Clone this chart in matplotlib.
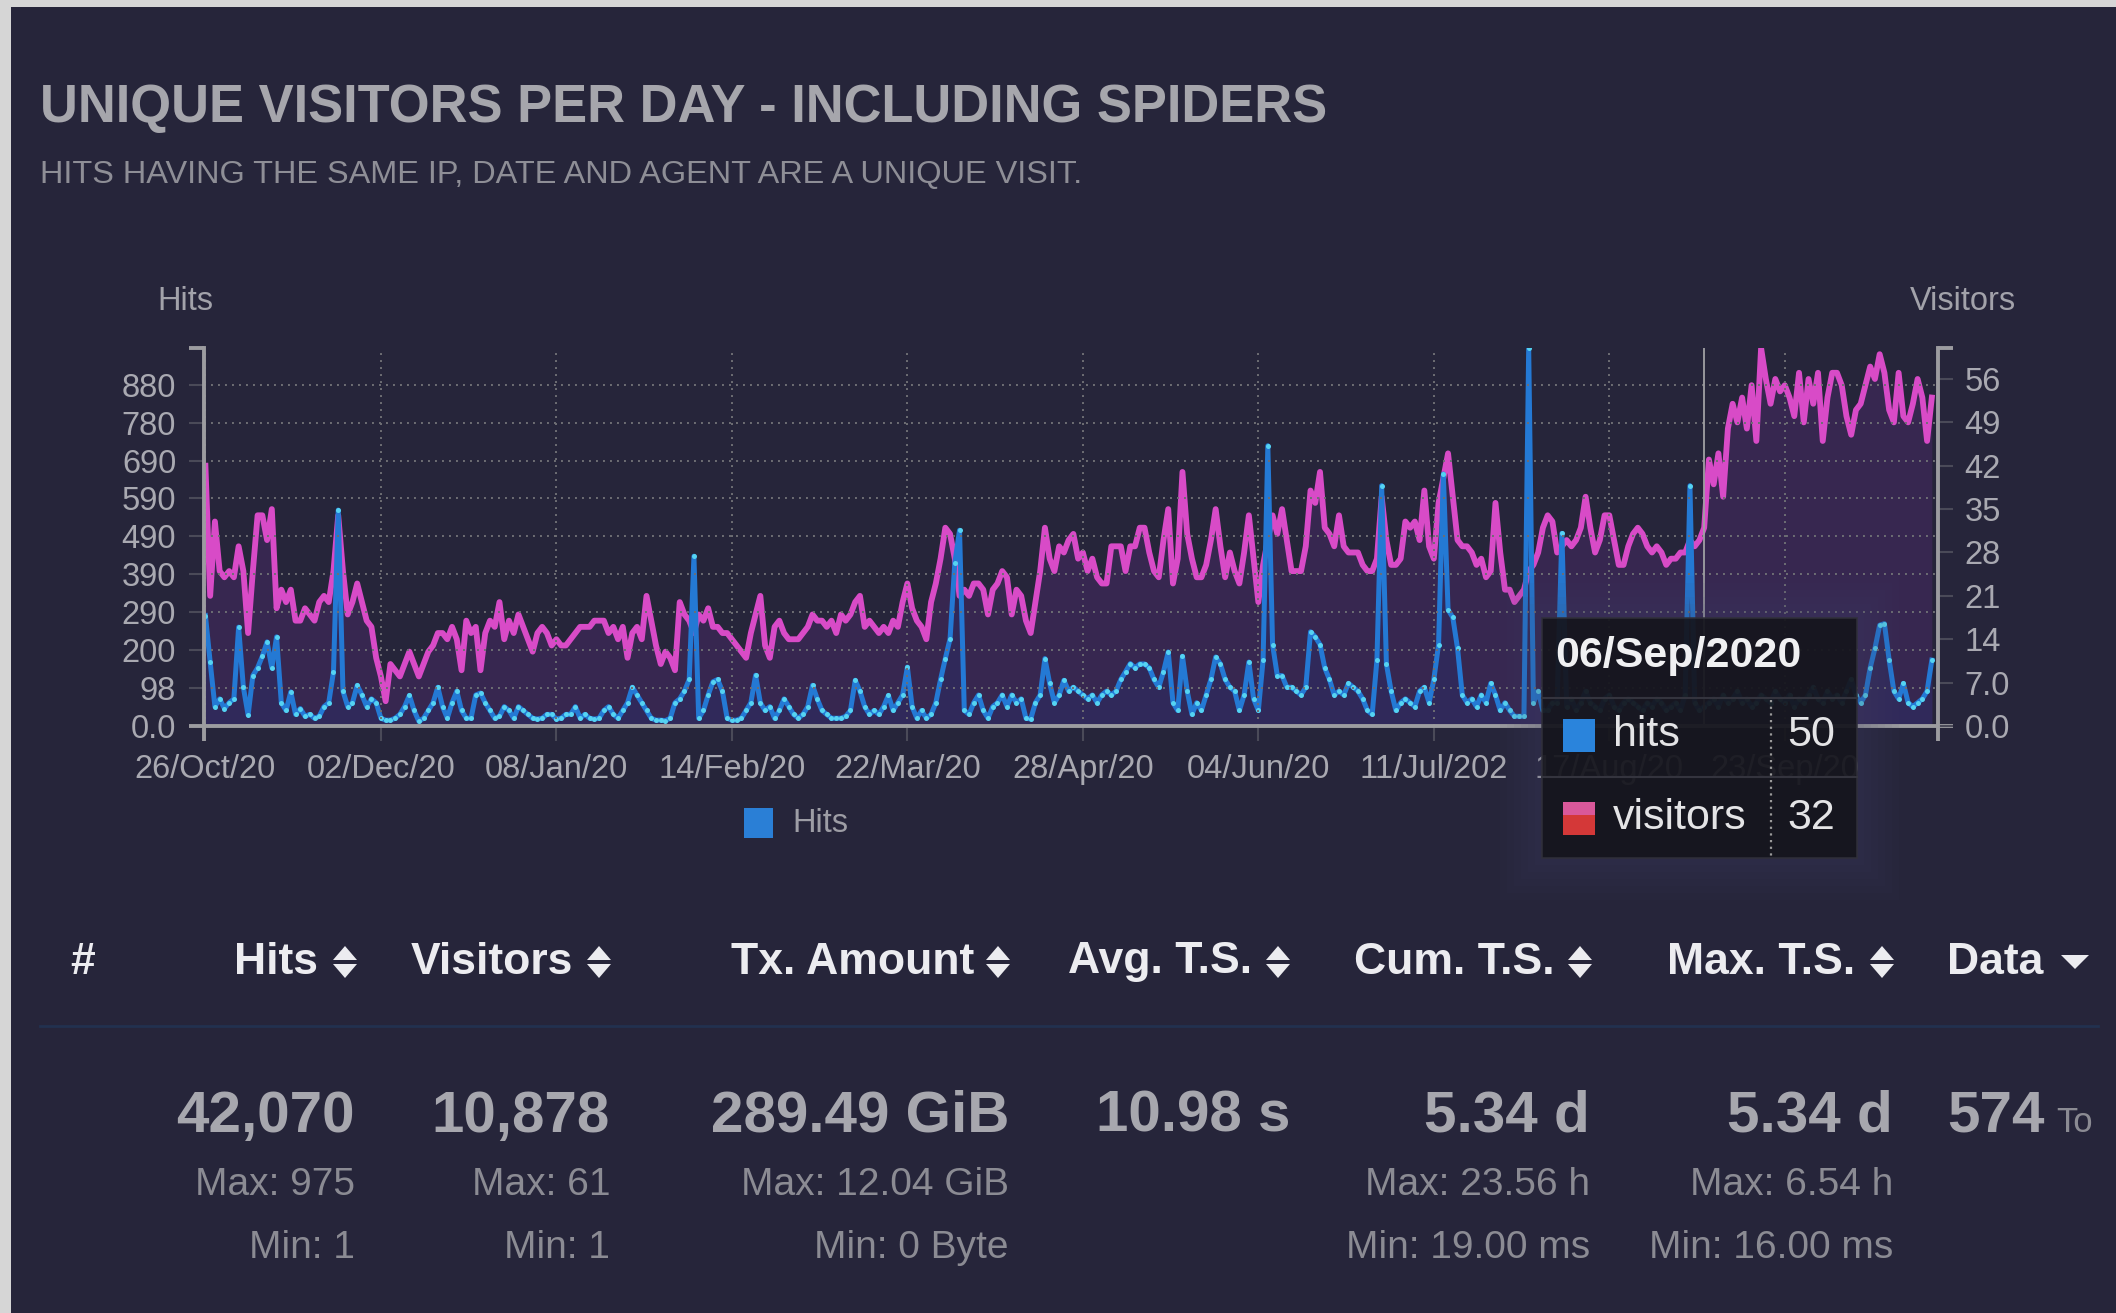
"""Unique visitors per day (GoAccess style dark panel)."""

import numpy as np
import matplotlib
matplotlib.use("Agg")
import matplotlib.pyplot as plt
import matplotlib.dates as mdates
from matplotlib.patches import Rectangle, Polygon
from matplotlib.lines import Line2D

# ---- data ---------------------------------------------------------------
start_date = "2019-10-26"
hover_date = "2020-09-06"

hits = [
    285, 165, 50, 70, 45, 60, 70, 255, 100, 28,
    130, 150, 180, 217, 150, 230, 60, 40, 88, 30,
    45, 25, 30, 20, 25, 50, 60, 140, 557, 90,
    50, 60, 105, 80, 50, 70, 60, 20, 15, 15,
    20, 30, 50, 79, 40, 12, 20, 40, 60, 100,
    50, 20, 60, 90, 40, 20, 20, 80, 85, 60,
    40, 20, 25, 50, 40, 20, 50, 40, 30, 20,
    18, 20, 30, 30, 18, 20, 30, 30, 50, 20,
    30, 20, 18, 20, 40, 50, 30, 20, 40, 60,
    100, 80, 60, 40, 20, 15, 15, 14, 20, 60,
    70, 90, 120, 438, 20, 40, 80, 114, 120, 90,
    20, 15, 15, 20, 40, 60, 131, 60, 40, 50,
    20, 40, 70, 50, 30, 20, 30, 50, 105, 70,
    40, 30, 20, 20, 20, 25, 40, 118, 90, 50,
    30, 40, 30, 50, 79, 40, 60, 80, 152, 50,
    20, 40, 20, 30, 60, 120, 174, 225, 420, 505,
    40, 30, 60, 80, 40, 20, 50, 60, 80, 50,
    80, 60, 70, 20, 18, 60, 80, 174, 110, 60,
    80, 118, 90, 100, 90, 80, 70, 80, 60, 80,
    90, 80, 90, 120, 140, 161, 150, 160, 160, 150,
    120, 100, 140, 191, 60, 40, 180, 90, 30, 60,
    40, 80, 120, 178, 160, 120, 100, 90, 40, 80,
    165, 70, 40, 170, 723, 210, 130, 130, 100, 100,
    90, 80, 100, 243, 230, 210, 150, 120, 80, 90,
    80, 110, 100, 90, 70, 40, 30, 170, 620, 160,
    90, 40, 60, 70, 60, 50, 90, 100, 60, 120,
    210, 650, 300, 280, 200, 80, 60, 70, 50, 80,
    60, 110, 80, 40, 60, 40, 25, 25, 25, 975,
    60, 90, 40, 40, 60, 60, 497, 50, 70, 40,
    60, 90, 60, 50, 40, 70, 80, 50, 40, 60,
    70, 60, 50, 40, 60, 50, 70, 60, 40, 50,
    60, 40, 80, 620, 60, 40, 50, 60, 70, 50,
    80, 60, 70, 90, 60, 70, 50, 60, 80, 70,
    60, 90, 70, 60, 80, 50, 70, 60, 80, 100,
    70, 60, 90, 70, 80, 60, 90, 120, 80, 60,
    80, 150, 200, 260, 264, 170, 90, 70, 110, 60,
    50, 60, 70, 90, 170,
]

visitors = [
    42, 21, 33, 25, 24, 25, 24, 29, 25, 15,
    25, 34, 34, 30, 35, 19, 22, 20, 22, 17,
    17, 19, 18, 17, 20, 21, 20, 25, 34, 25,
    18, 20, 23, 20, 17, 16, 11, 8, 4, 10,
    9, 8, 10, 12, 10, 8, 10, 12, 13, 15,
    15, 14, 16, 14, 9, 17, 15, 16, 9, 15,
    17, 16, 20, 14, 17, 15, 18, 16, 14, 12,
    15, 16, 15, 13, 14, 13, 13, 14, 15, 16,
    16, 16, 17, 17, 17, 15, 16, 14, 16, 11,
    15, 16, 14, 21, 17, 13, 10, 12, 11, 9,
    20, 18, 17, 15, 18, 17, 19, 16, 16, 15,
    15, 14, 13, 12, 11, 15, 18, 21, 13, 11,
    16, 17, 15, 14, 14, 14, 15, 16, 18, 17,
    17, 16, 17, 15, 18, 17, 18, 20, 21, 16,
    17, 16, 15, 16, 15, 17, 16, 20, 23, 19,
    17, 16, 14, 20, 23, 27, 32, 31, 27, 21,
    22, 21, 23, 23, 22, 18, 22, 23, 25, 24,
    18, 22, 21, 17, 15, 20, 25, 32, 27, 25,
    29, 28, 30, 31, 27, 28, 25, 27, 24, 23,
    23, 29, 29, 29, 25, 29, 29, 32, 32, 28,
    25, 24, 30, 35, 23, 27, 41, 31, 27, 24,
    24, 26, 30, 35, 29, 24, 28, 25, 23, 28,
    34, 27, 20, 26, 30, 34, 31, 35, 30, 25,
    25, 25, 29, 38, 36, 41, 32, 31, 29, 34,
    29, 28, 28, 28, 26, 25, 25, 27, 37, 30,
    26, 26, 27, 33, 32, 33, 30, 38, 29, 27,
    36, 40, 44, 37, 30, 29, 29, 28, 26, 27,
    24, 25, 36, 28, 22, 22, 20, 21, 22, 25,
    26, 28, 32, 34, 33, 28, 29, 30, 29, 30,
    32, 37, 32, 28, 30, 34, 34, 30, 26, 26,
    29, 31, 32, 31, 29, 28, 29, 28, 26, 27,
    27, 28, 28, 30, 29, 30, 32, 43, 39, 44,
    37, 48, 52, 49, 53, 48, 55, 46, 61, 56,
    52, 56, 54, 55, 53, 50, 57, 49, 56, 52,
    57, 46, 53, 57, 57, 55, 50, 47, 51, 52,
    55, 58, 56, 60, 57, 51, 49, 57, 50, 49,
    52, 56, 53, 46, 53,
]

xtick_dates = ["2019-10-26", "2019-12-02", "2020-01-08", "2020-02-14", "2020-03-22",
               "2020-04-28", "2020-06-04", "2020-07-11", "2020-08-17", "2020-09-23"]
xtick_labels = ["26/Oct/20", "02/Dec/20", "08/Jan/20", "14/Feb/20", "22/Mar/20",
                "28/Apr/20", "04/Jun/20", "11/Jul/202", "17/Aug/20", "23/Sep/20"]

hits_max = 975
hits_ticks = [0, 98, 196, 293, 391, 489, 587, 684, 782, 880]
hits_tick_labels = ["0.0", "98", "200", "290", "390", "490", "590", "690", "780", "880"]
visitors_max = 61
visitors_ticks = [0, 7, 14, 21, 28, 35, 42, 49, 56]
visitors_tick_labels = ["0.0", "7.0", "14", "21", "28", "35", "42", "49", "56"]

columns = ["Hits", "Visitors", "Tx. Amount", "Avg. T.S.", "Cum. T.S.", "Max. T.S."]
col_totals = ["42,070", "10,878", "289.49 GiB", "10.98 s", "5.34 d", "5.34 d"]
col_max = ["Max: 975", "Max: 61", "Max: 12.04 GiB", "", "Max: 23.56 h", "Max: 6.54 h"]
col_min = ["Min: 1", "Min: 1", "Min: 0 Byte", "", "Min: 19.00 ms", "Min: 16.00 ms"]
col_right = [318, 573, 974, 1252, 1555, 1855]       # header text right edge (px)
val_right = [355, 610, 1009, 1290, 1590, 1893]      # value right edge (px)
icon_x = [345, 599, 998, 1278, 1580, 1882]

# ---- style --------------------------------------------------------------
W, H = 2116, 1313
BG = "#26253a"
plt.rcParams["font.family"] = ["Liberation Sans", "DejaVu Sans"]

C_HITS = "#2479d4"
C_DOTS = "#55d3f2"
C_VIS = "#d84bc7"
C_AXIS = "#9c9ca0"
C_TICK = "#a9a9b1"


def fx(x):
    return x / W


def fy(y):
    return 1 - y / H


fig = plt.figure(figsize=(W / 100, H / 100), dpi=100, facecolor="#d6d6d6")
fig.add_artist(Rectangle((fx(11), 0), 1 - fx(11), fy(7), transform=fig.transFigure,
                         facecolor=BG, edgecolor="none", zorder=-5))

ax = fig.add_axes([fx(204), fy(726), fx(1938) - fx(204), fy(348) - fy(726)])
ax.set_facecolor("none")
ax2 = ax.twinx()

days = np.datetime64(start_date) + np.arange(len(hits))
xs = mdates.date2num(days.astype("datetime64[D]").astype(object))

# visitors (right axis) drawn on ax with ax2's transform so layering can interleave
ax.fill_between(xs, visitors, 0, transform=ax2.transData, color="#3b2854",
                alpha=0.85, lw=0, zorder=1.0)
ax.fill_between(xs, hits, 0, color="#2e2b5e", alpha=0.75, lw=0, zorder=1.1)
ax.plot(xs, visitors, transform=ax2.transData, color=C_VIS, lw=4.2, zorder=1.5,
        solid_joinstyle="round")
ax.plot(xs, hits, color=C_HITS, lw=3.6, zorder=1.7, solid_joinstyle="round")
ax.plot(xs, hits, "o", ms=3.6, color=C_DOTS, mec="none", zorder=1.8)

ax.set_xlim(xs[0] - 0.3, xs[-1] + 1.3)
ax.set_ylim(0, hits_max)
ax2.set_ylim(0, visitors_max)

ax.set_xticks(mdates.date2num(np.array(xtick_dates, dtype="datetime64[D]").astype(object)),
              labels=xtick_labels)
ax.set_yticks(hits_ticks, labels=hits_tick_labels)
ax2.set_yticks(visitors_ticks, labels=visitors_tick_labels)

ax.set_axisbelow(False)
ax.grid(True, color="#6e6e74", lw=1.4, linestyle=(0, (1, 2.6)))
ax2.grid(False)

for a in (ax, ax2):
    for s in a.spines.values():
        s.set_visible(False)
for s in (ax.spines["left"], ax.spines["bottom"], ax2.spines["right"]):
    s.set_visible(True)
    s.set_color(C_AXIS)
    s.set_linewidth(2.8)
    s.set_zorder(3)

ax.tick_params(axis="y", direction="out", length=11, width=1.5, color="#4a4a58",
               labelsize=23.5, labelcolor=C_TICK, pad=9)
ax.tick_params(axis="x", direction="out", length=11, width=1.5, color="#4a4a58",
               labelsize=23.5, labelcolor=C_TICK, pad=9)
ax2.tick_params(axis="y", direction="out", length=11, width=1.5, color="#4a4a58",
                labelsize=23.5, labelcolor=C_TICK, pad=8)

# d3-style outer ticks on the axis domains
cx = 15 / (1938 - 204)
cy = 15 / (726 - 348)
for xd, yd in [([-cx, 0], [1, 1]), ([-cx, 0], [0, 0]), ([1, 1 + cx], [1, 1]),
               ([1, 1 + cx], [0, 0]), ([0, 0], [0, -cy]), ([1, 1], [0, -cy])]:
    ax.add_line(Line2D(xd, yd, transform=ax.transAxes, color=C_AXIS, lw=2.8,
                       clip_on=False, zorder=3, solid_capstyle="butt"))

# hover cursor
hover_x = mdates.date2num(np.datetime64(hover_date, "D").astype(object))
ax.axvline(hover_x, color="#a0a0a4", lw=1.3, zorder=2.6)

# axis titles and legend
fig.text(fx(185), fy(302), "Hits", ha="center", va="center", fontsize=23.5, color="#a2a2aa")
fig.text(fx(1963), fy(302), "Visitors", ha="center", va="center", fontsize=23.5, color="#a2a2aa")
fig.add_artist(Rectangle((fx(744), fy(838)), fx(29), 30 / H, transform=fig.transFigure,
                         facecolor="#2a7fd6", edgecolor="none"))
fig.text(fx(792), fy(823), "Hits", va="center", fontsize=23.5, color="#9d9da5")

# title
fig.text(fx(40), fy(108), "UNIQUE VISITORS PER DAY - INCLUDING SPIDERS", va="center",
         fontsize=37.8, fontweight="bold", color="#a6a6ac")
fig.text(fx(40), fy(175), "HITS HAVING THE SAME IP, DATE AND AGENT ARE A UNIQUE VISIT.",
         va="center", fontsize=23.4, color="#8e8e96")

# ---- tooltip --------------------------------------------------------------
hi = int(np.where(days == np.datetime64(hover_date))[0][0])
tx0, ty0, tx1, ty1 = 1542, 618, 1857, 858
for g in range(6, 0, -1):
    pad = g * 7
    fig.add_artist(Rectangle((fx(tx0 - pad), fy(ty1 + pad)), (tx1 - tx0 + 2 * pad) / W,
                             (ty1 - ty0 + 2 * pad) / H, transform=fig.transFigure,
                             facecolor="#4a4a6c", alpha=0.05, edgecolor="none", zorder=4))
fig.add_artist(Rectangle((fx(tx0), fy(ty1)), (tx1 - tx0) / W, (ty1 - ty0) / H,
                         transform=fig.transFigure, facecolor="#15151c", alpha=0.92,
                         edgecolor="#30303a", lw=1.2, zorder=5))
for yy in (698, 777):
    fig.add_artist(Line2D([fx(tx0), fx(tx1)], [fy(yy), fy(yy)], transform=fig.transFigure,
                          color="#34343e", lw=1.5, zorder=6))
fig.add_artist(Line2D([fx(1771), fx(1771)], [fy(700), fy(856)], transform=fig.transFigure,
                      color="#9a9a9a", lw=1.6, linestyle=(0, (1, 2)), zorder=6))
hover_label = np.datetime_as_string(days[hi]).split("-")
months = {"09": "Sep"}
fig.text(fx(1555), fy(656), f"{hover_label[2]}/{months.get(hover_label[1], hover_label[1])}/{hover_label[0]}",
         va="center", fontsize=31, fontweight="bold", color="#f0f0f2", zorder=7)
fig.add_artist(Rectangle((fx(1563), fy(752)), fx(32), 33 / H, transform=fig.transFigure,
                         facecolor="#2a84dc", edgecolor="none", zorder=7))
fig.add_artist(Rectangle((fx(1563), fy(835)), fx(32), 20 / H, transform=fig.transFigure,
                         facecolor="#d43838", edgecolor="none", zorder=7))
fig.add_artist(Rectangle((fx(1563), fy(815)), fx(32), 13 / H, transform=fig.transFigure,
                         facecolor="#d9589a", edgecolor="none", zorder=7))
fig.text(fx(1613), fy(735), "hits", va="center", fontsize=31, color="#e4e4e6", zorder=7)
fig.text(fx(1613), fy(818), "visitors", va="center", fontsize=31, color="#e4e4e6", zorder=7)
fig.text(fx(1835), fy(735), str(hits[hi]), ha="right", va="center", fontsize=31,
         color="#e4e4e6", zorder=7)
fig.text(fx(1835), fy(818), str(visitors[hi]), ha="right", va="center", fontsize=31,
         color="#e4e4e6", zorder=7)

# ---- summary table ----------------------------------------------------------
HEAD = "#ececf0"
fig.text(fx(70), fy(962), "#", va="center", fontsize=32, fontweight="bold", color=HEAD)
for name, xr, xi in zip(columns, col_right, icon_x):
    fig.text(fx(xr), fy(962), name, ha="right", va="center", fontsize=32,
             fontweight="bold", color=HEAD)
    fig.add_artist(Polygon([(fx(xi - 12), fy(960)), (fx(xi + 12), fy(960)), (fx(xi), fy(946))],
                           transform=fig.transFigure, facecolor=HEAD, edgecolor="none"))
    fig.add_artist(Polygon([(fx(xi - 12), fy(964)), (fx(xi + 12), fy(964)), (fx(xi), fy(978))],
                           transform=fig.transFigure, facecolor=HEAD, edgecolor="none"))
fig.text(fx(1947), fy(962), "Data", va="center", fontsize=32, fontweight="bold", color=HEAD)
fig.add_artist(Polygon([(fx(2061), fy(955)), (fx(2089), fy(955)), (fx(2075), fy(969))],
                       transform=fig.transFigure, facecolor=HEAD, edgecolor="none"))

fig.add_artist(Line2D([fx(40), fx(2098)], [fy(1026), fy(1026)], transform=fig.transFigure,
                      color="#22314f", lw=2))

for xr, tot, mx, mn in zip(val_right, col_totals, col_max, col_min):
    fig.text(fx(xr), fy(1117), tot, ha="right", va="center", fontsize=42,
             fontweight="bold", color="#a7a7ae")
    fig.text(fx(xr), fy(1185), mx, ha="right", va="center", fontsize=28, color="#8b8b93")
    fig.text(fx(xr), fy(1248), mn, ha="right", va="center", fontsize=28, color="#8b8b93")
fig.text(fx(1947), fy(1117), "574", va="center", fontsize=42, fontweight="bold", color="#a7a7ae")
fig.text(fx(2056), fy(1122), "To", va="center", fontsize=25, color="#8b8b93")

fig.savefig("out.png", dpi=100, facecolor=fig.get_facecolor())
